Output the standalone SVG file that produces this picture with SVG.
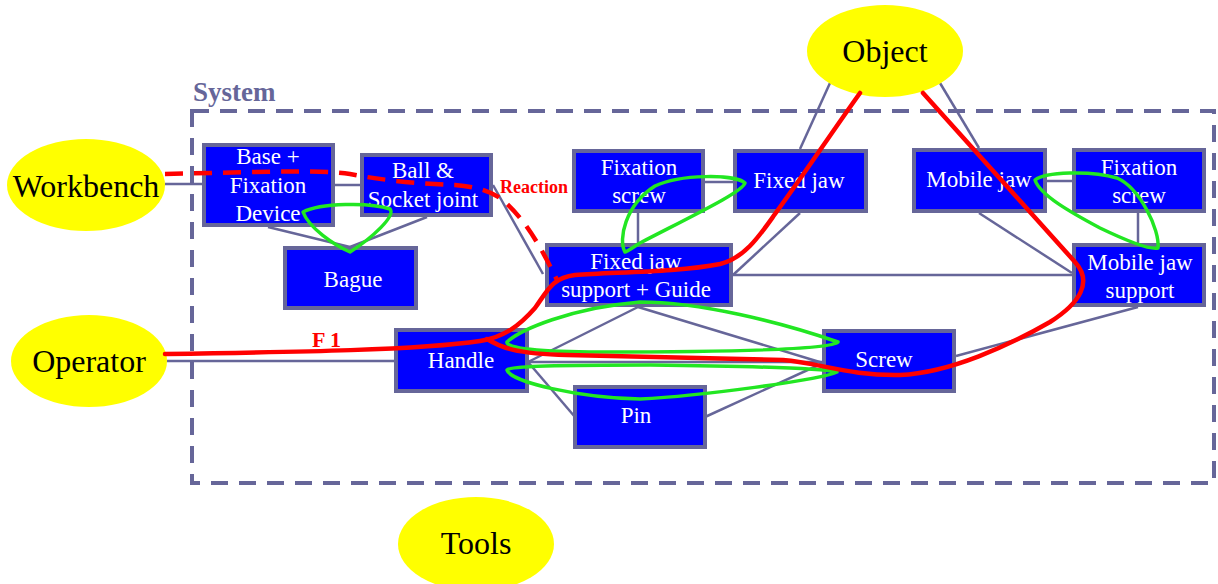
<svg xmlns="http://www.w3.org/2000/svg" width="1218" height="584" viewBox="0 0 1218 584">
<style>
.box{fill:#0000FF;stroke:#666699;stroke-width:4}
.bt{font-family:"Liberation Serif","Times New Roman",serif;font-size:23px;fill:#FFFFFF;text-anchor:middle}
.ell{fill:#FFFF00}
.et{font-family:"Liberation Serif","Times New Roman",serif;font-size:32px;fill:#000000;text-anchor:middle}
.con{stroke:#666699;stroke-width:2.5;fill:none}
.red{stroke:#FF0000;stroke-width:4.5;fill:none;stroke-linecap:round;stroke-linejoin:round}
.reddash{stroke:#FF0000;stroke-width:4.5;fill:none;stroke-dasharray:18 11}
.grn{stroke:#22E622;stroke-width:3.5;fill:none;stroke-linejoin:round}
.lbl{font-family:"Liberation Serif","Times New Roman",serif;font-weight:bold;fill:#FF0000}
</style>
<rect width="1218" height="584" fill="#FFFFFF"/>
<g id="system">
<rect x="192" y="111" width="1022" height="372" fill="none" stroke="#666699" stroke-width="4" stroke-dasharray="17 11"/>
<text x="193" y="101" font-family="Liberation Serif, serif" font-weight="bold" font-size="27" fill="#666699">System</text>
</g>
<g id="connectors">
<line class="con" x1="165" y1="184" x2="204" y2="184"/>
<line class="con" x1="333" y1="185" x2="362" y2="185"/>
<line class="con" x1="268" y1="227" x2="350" y2="247"/>
<line class="con" x1="427" y1="217" x2="350" y2="247"/>
<line class="con" x1="493" y1="185" x2="543" y2="274"/>
<line class="con" x1="638" y1="213" x2="638" y2="245"/>
<line class="con" x1="703" y1="182" x2="735" y2="182"/>
<line class="con" x1="800" y1="213" x2="733" y2="275"/>
<line class="con" x1="733" y1="275" x2="1074" y2="275"/>
<line class="con" x1="979" y1="213" x2="1072" y2="273"/>
<line class="con" x1="1045" y1="181" x2="1074" y2="181"/>
<line class="con" x1="1138" y1="213" x2="1138" y2="245"/>
<line class="con" x1="1138" y1="307" x2="956" y2="356"/>
<line class="con" x1="830" y1="83" x2="800" y2="149"/>
<line class="con" x1="940" y1="83" x2="979" y2="148"/>
<line class="con" x1="167" y1="361" x2="396" y2="361"/>
<line class="con" x1="638" y1="307" x2="528" y2="362"/>
<line class="con" x1="638" y1="307" x2="823" y2="363"/>
<line class="con" x1="528" y1="362" x2="823" y2="362"/>
<line class="con" x1="528" y1="362" x2="575" y2="417"/>
<line class="con" x1="705" y1="417" x2="823" y2="363"/>
</g>
<g id="workbench"><ellipse class="ell" cx="86" cy="185" rx="79" ry="46"/><text class="et" x="86" y="197">Workbench</text></g>
<g id="operator"><ellipse class="ell" cx="89" cy="361" rx="78" ry="46"/><text class="et" x="89" y="372">Operator</text></g>
<g id="tools"><ellipse class="ell" cx="476" cy="544" rx="78" ry="47"/><text class="et" x="476" y="554">Tools</text></g>
<g id="object"><ellipse class="ell" cx="885" cy="51" rx="78" ry="46"/><text class="et" x="885" y="62">Object</text></g>
<g id="base"><rect class="box" x="204" y="145" width="129" height="80"/><text class="bt" x="268" y="164">Base +</text><text class="bt" x="268" y="193">Fixation</text><text class="bt" x="268" y="221">Device</text></g>
<g id="ball"><rect class="box" x="362" y="155" width="129" height="60"/><text class="bt" x="423" y="178">Ball &amp;</text><text class="bt" x="423" y="207">Socket joint</text></g>
<g id="bague"><rect class="box" x="285" y="248" width="131" height="60"/><text class="bt" x="353" y="287">Bague</text></g>
<g id="fixedjawsupport"><rect class="box" x="547" y="245" width="184" height="60"/><text class="bt" x="636" y="269">Fixed jaw</text><text class="bt" x="636" y="297">support + Guide</text></g>
<g id="fixationscrew1"><rect class="box" x="574" y="151" width="129" height="60"/><text class="bt" x="639" y="175">Fixation</text><text class="bt" x="639" y="203">screw</text></g>
<g id="fixedjaw"><rect class="box" x="735" y="151" width="131" height="60"/><text class="bt" x="799" y="188">Fixed jaw</text></g>
<g id="mobilejaw"><rect class="box" x="914" y="150" width="131" height="61"/><text class="bt" x="979" y="187">Mobile jaw</text></g>
<g id="fixationscrew2"><rect class="box" x="1074" y="150" width="130" height="61"/><text class="bt" x="1139" y="175">Fixation</text><text class="bt" x="1139" y="203">screw</text></g>
<g id="mobilejawsupport"><rect class="box" x="1074" y="245" width="130" height="60"/><text class="bt" x="1140" y="270">Mobile jaw</text><text class="bt" x="1140" y="298">support</text></g>
<g id="handle"><rect class="box" x="396" y="330" width="131" height="61"/><text class="bt" x="461" y="368">Handle</text></g>
<g id="pin"><rect class="box" x="575" y="387" width="130" height="60"/><text class="bt" x="636" y="423">Pin</text></g>
<g id="screw"><rect class="box" x="824" y="331" width="130" height="60"/><text class="bt" x="884" y="367">Screw</text></g>
<g id="overlays">
<path class="grn" d="M303,212 C320,203 370,202 390,209 C396,216 372,238 350,252 C334,245 309,228 303,212 Z"/>
<path class="grn" d="M625,252 C618,240 625,205 655,186 C680,174 735,174 745,183 C742,192 700,212 640,243 C632,248 627,252 625,252 Z"/>
<path class="grn" d="M1035,180 C1045,172 1090,170 1117,178 C1140,188 1160,230 1158,248 C1150,250 1125,240 1100,228 C1070,212 1040,195 1035,180 Z"/>
<path class="grn" d="M507,342 C520,330 570,308 640,302 C700,302 780,322 838,342 C830,350 720,352 600,352 C540,352 505,348 507,342 Z"/>
<path class="grn" d="M507,370 C510,366 560,365 650,365 C740,366 820,368 837,372 C820,380 700,396 640,399 C580,398 510,382 507,370 Z"/>
<path class="reddash" d="M165,174 L250,172 C300,171 330,171 350,174 C380,180 420,184 455,185 C480,187 495,193 505,202 C525,220 540,245 557,280"/>
<path class="red" d="M165,354 C300,352 420,350 480,341 C505,337 520,325 535,308 C548,290 552,278 575,275 C620,272 680,272 720,264 C745,258 760,235 775,214 C800,180 830,135 860,93"/>
<path class="red" d="M487,339 C500,347 515,354 567,355 L783,360 C820,363 850,376 900,375 C950,373 1010,345 1050,322 C1080,303 1093,282 1075,262 L923,93"/>
<text class="lbl" x="500" y="193" font-size="18">Reaction</text>
<text class="lbl" x="312" y="347" font-size="22">F 1</text>
</g>
</svg>
